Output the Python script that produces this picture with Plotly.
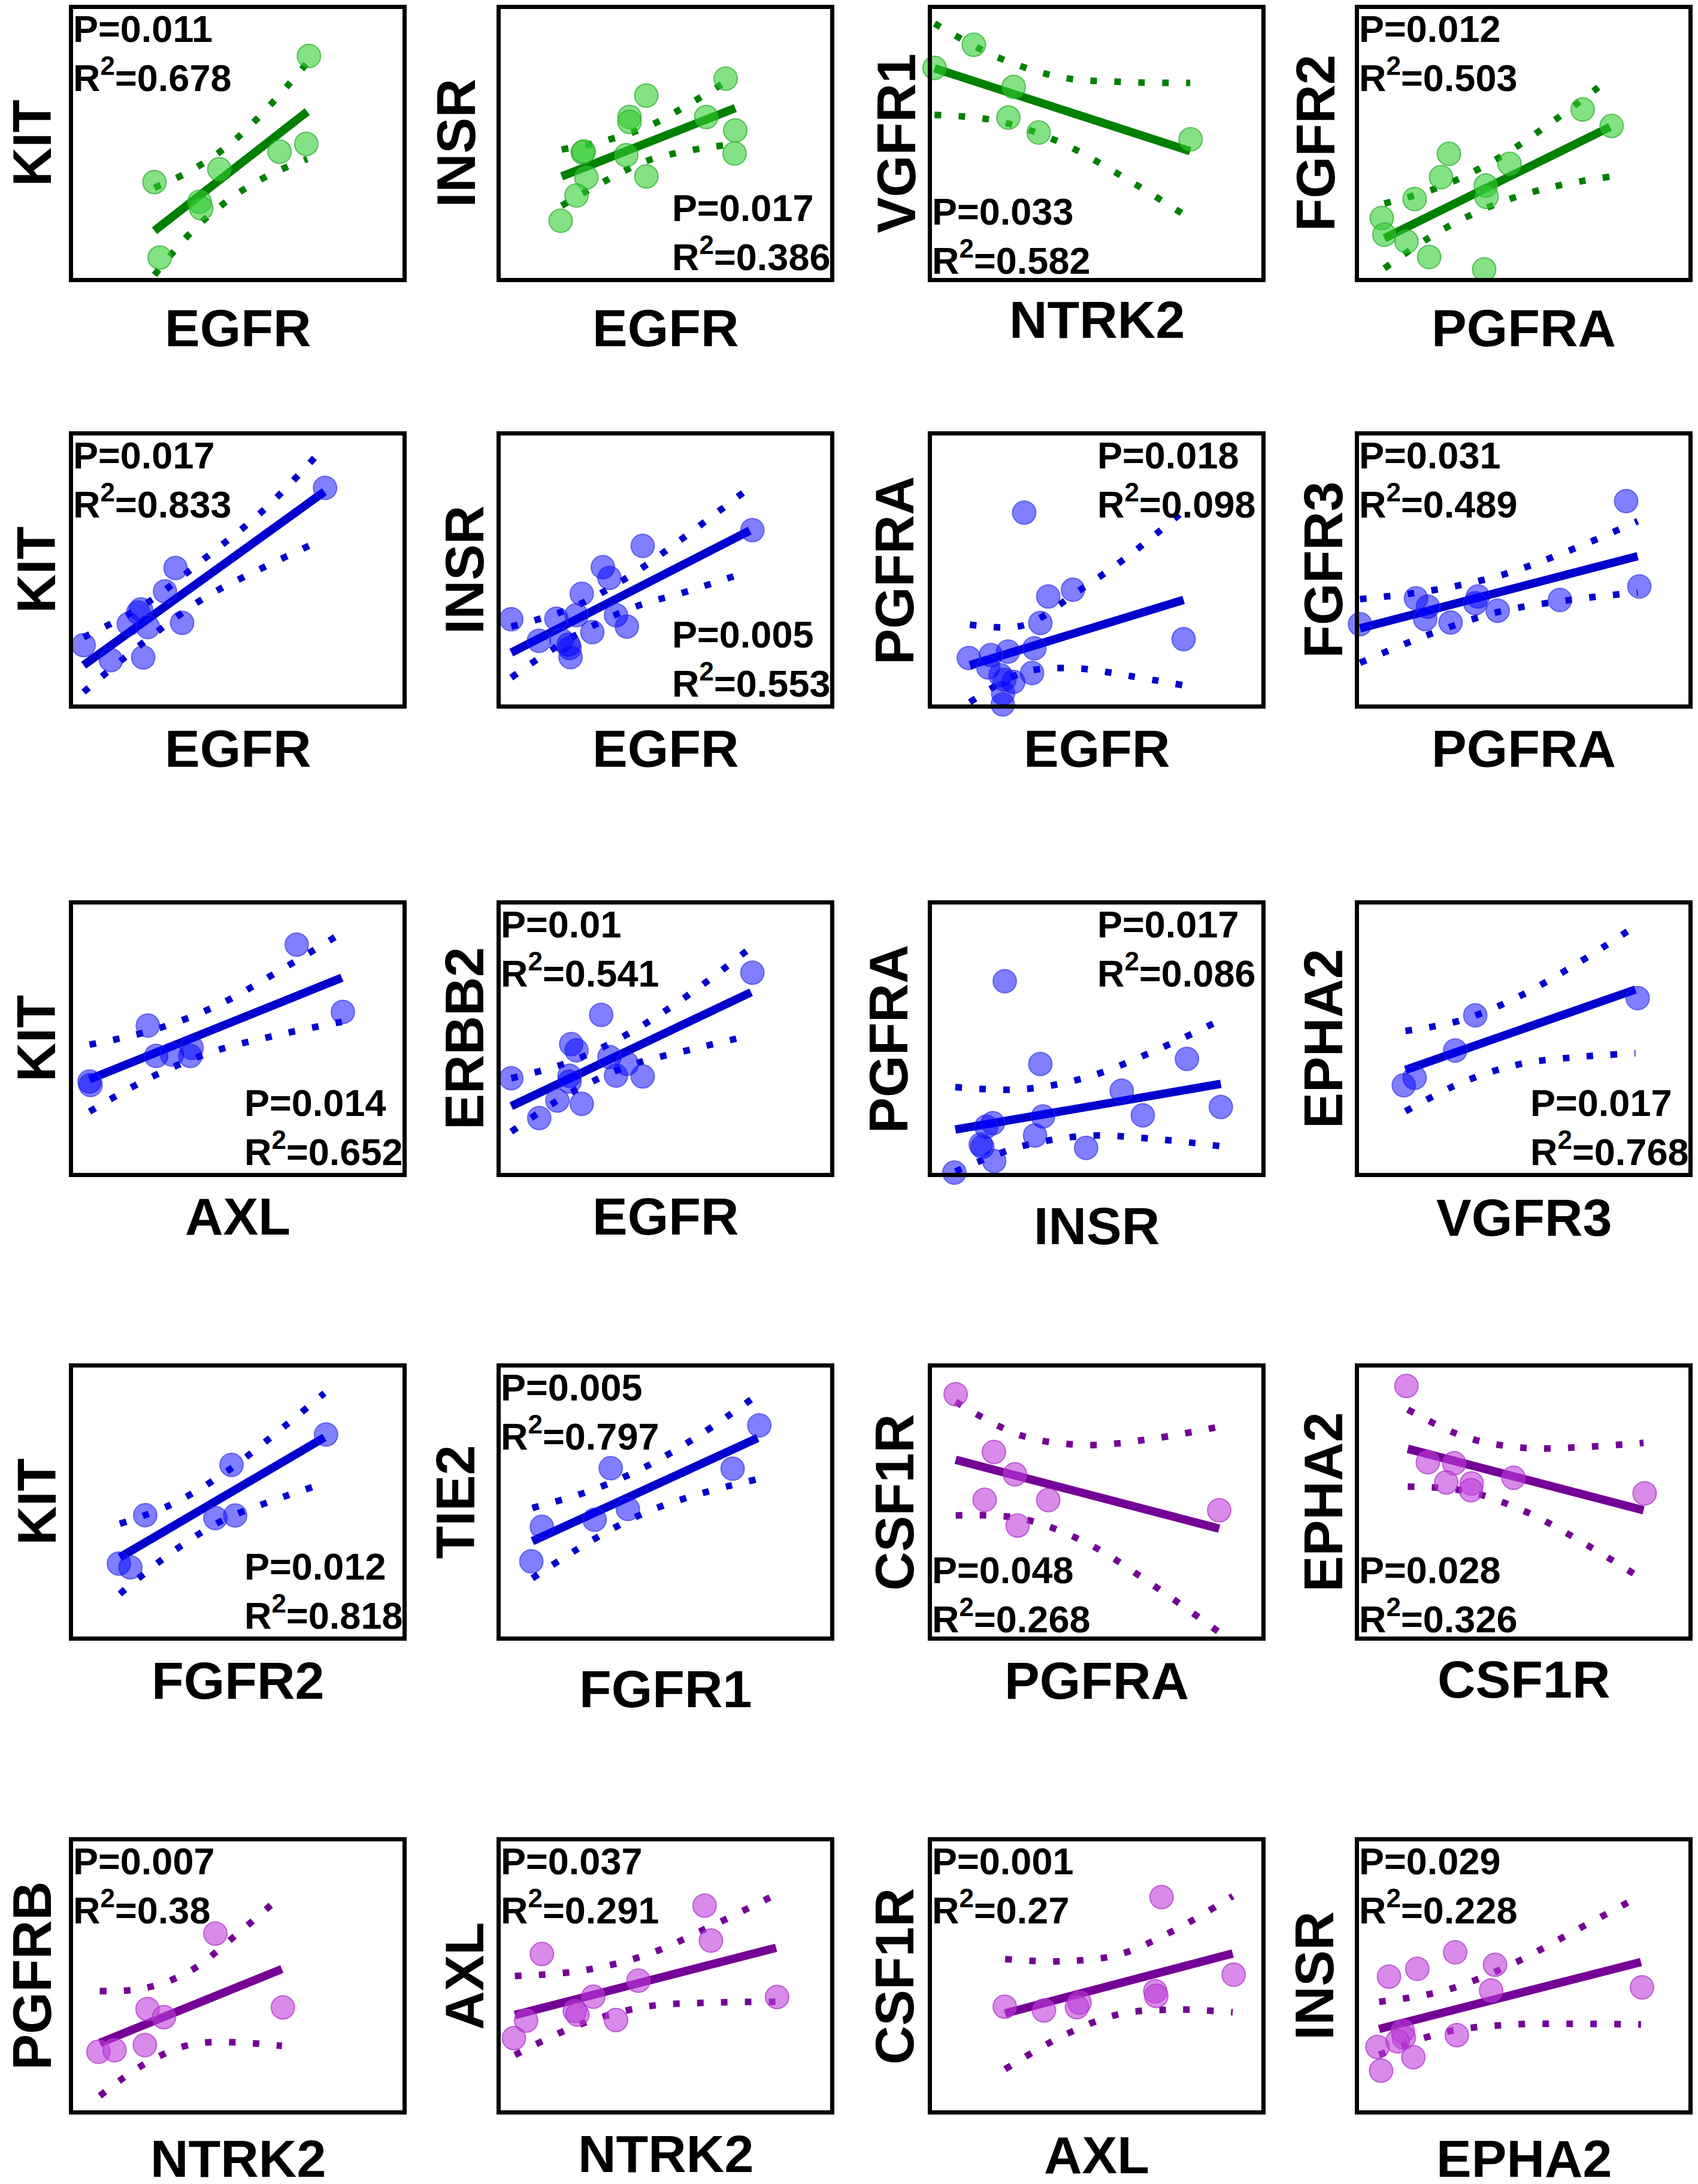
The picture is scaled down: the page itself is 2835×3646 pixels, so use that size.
import plotly.graph_objects as go
from plotly.subplots import make_subplots

y_names = ['KIT', 'INSR', 'VGFR1', 'FGFR2',
           'KIT', 'INSR', 'PGFRA', 'FGFR3',
           'KIT', 'ERBB2', 'PGFRA', 'EPHA2',
           'KIT', 'TIE2', 'CSF1R', 'EPHA2',
           'PGFRB', 'AXL', 'CSF1R', 'INSR']
x_names = ['EGFR', 'EGFR', 'NTRK2', 'PGFRA',
           'EGFR', 'EGFR', 'EGFR', 'PGFRA',
           'AXL', 'EGFR', 'INSR', 'VGFR3',
           'FGFR2', 'FGFR1', 'PGFRA', 'CSF1R',
           'NTRK2', 'NTRK2', 'AXL', 'EPHA2']
p_values = ['0.011', '0.017', '0.033', '0.012',
            '0.017', '0.005', '0.018', '0.031',
            '0.014', '0.01', '0.017', '0.017',
            '0.012', '0.005', '0.048', '0.028',
            '0.007', '0.037', '0.001', '0.029']
r2_values = ['0.678', '0.386', '0.582', '0.503',
             '0.833', '0.553', '0.098', '0.489',
             '0.652', '0.541', '0.086', '0.768',
             '0.818', '0.797', '0.268', '0.326',
             '0.38', '0.291', '0.27', '0.228']

point_x = [
    [.716, .708, .627, .444, .247, .384, .389, .263],
    [.683, .442, .391, .391, .624, .712, .71, .249, .252, .381, .26, .442, .23, .182],
    [.008, .127, .248, .232, .324, .785],
    [.679, .767, .273, .457, .249, .385, .169, .387, .069, .077, .144, .213, .38],
    [.765, .311, .279, .206, .198, .169, .227, .331, .032, .115, .213],
    [.764, .431, .31, .33, .246, .032, .169, .23, .35, .383, .278, .116, .185, .206, .209, .212],
    [.28, .428, .353, .329, .764, .311, .231, .112, .179, .171, .304, .208, .247, .216, .215, .22],
    [.811, .851, .173, .209, .361, .353, .421, .61, .201, .278, .003],
    [.679, .819, .227, .252, .3, .36, .356, .05, .053],
    [.764, .305, .214, .23, .33, .383, .35, .431, .032, .209, .209, .172, .246, .117],
    [.221, .329, .774, .576, .877, .64, .337, .185, .165, .313, .468, .148, .153, .189, .068],
    [.846, .353, .292, .169, .136],
    [.768, .481, .219, .432, .492, .139, .174],
    [.785, .704, .334, .386, .285, .125, .093],
    [.072, .188, .252, .16, .353, .26, .872],
    [.144, .209, .289, .469, .265, .342, .34, .867],
    [.432, .226, .276, .637, .218, .077, .126],
    [.619, .638, .125, .418, .281, .839, .225, .233, .077, .35, .04],
    [.697, .916, .678, .681, .221, .34, .448, .44],
    [.292, .177, .413, .091, .401, .859, .133, .136, .117, .297, .056, .165, .067],
]
point_y = [
    [.825, .498, .469, .404, .356, .283, .258, .075],
    [.741, .678, .598, .58, .598, .548, .462, .466, .47, .456, .373, .377, .306, .212],
    [.781, .867, .71, .596, .54, .515],
    [.626, .565, .461, .424, .374, .343, .293, .301, .222, .16, .135, .077, .031],
    [.806, .508, .421, .354, .342, .3, .288, .304, .221, .165, .175],
    [.649, .59, .511, .471, .412, .317, .319, .332, .332, .29, .269, .237, .239, .223, .21, .176],
    [.714, .427, .402, .303, .243, .209, .197, .173, .184, .138, .117, .109, .084, .042, 0.0, .092],
    [.757, .439, .395, .364, .402, .377, .349, .389, .318, .305, .299],
    [.85, .6, .549, .436, .441, .466, .436, .341, .328],
    [.746, .589, .48, .457, .432, .407, .363, .36, .353, .362, .341, .27, .258, .205],
    [.714, .406, .425, .307, .246, .215, .211, .186, .173, .14, .094, .106, .098, .045, .002],
    [.651, .587, .456, .355, .327],
    [.751, .638, .451, .44, .45, .271, .257],
    [.785, .624, .626, .474, .434, .408, .279],
    [.901, .686, .603, .508, .507, .4125, .469],
    [.932, .648, .644, .59, .573, .569, .544, .532],
    [.658, .377, .347, .383, .243, .218, .224],
    [.762, .632, .582, .483, .423, .422, .37, .357, .334, .336, .269],
    [.794, .505, .443, .426, .386, .372, .401, .384],
    [.588, .527, .542, .498, .446, .458, .295, .271, .257, .28, .236, .198, .148],
]

# regression line ends
fit_x = [[.247, .711], [.185, .712], [.008, .784], [.077, .762],
         [.032, .763], [.032, .756], [.115, .764], [.003, .846],
         [.05, .816], [.032, .76], [.071, .877], [.141, .839],
         [.142, .763], [.096, .78], [.072, .872], [.148, .864],
         [.081, .634], [.043, .836], [.222, .913], [.061, .856]]
fit_y = [[.175, .618], [.377, .631], [.779, .471], [.147, .561],
         [.146, .792], [.193, .647], [.146, .389], [.283, .552],
         [.349, .727], [.249, .673], [.162, .332], [.384, .683],
         [.294, .74], [.354, .738], [.657, .401], [.698, .469],
         [.251, .526], [.355, .605], [.361, .584], [.303, .552]]

# confidence band, read at five places along each fit
band_x = [
    [.247, .363, .479, .595, .711], [.185, .317, .449, .58, .712],
    [.008, .2, .396, .59, .784], [.077, .248, .42, .591, .762],
    [.032, .215, .398, .58, .763], [.032, .213, .394, .575, .756],
    [.115, .28, .44, .6, .764], [.003, .214, .425, .635, .846],
    [.05, .242, .433, .625, .816], [.032, .214, .396, .578, .76],
    [.071, .273, .474, .676, .877], [.141, .316, .49, .665, .839],
    [.142, .297, .453, .608, .763], [.096, .267, .438, .609, .78],
    [.072, .272, .472, .672, .872], [.148, .327, .506, .685, .864],
    [.081, .219, .357, .496, .634], [.043, .241, .44, .638, .836],
    [.222, .395, .568, .741, .913], [.061, .26, .459, .658, .856],
]
band_hi = [
    [.335, .402, .50, .638, .80], [.477, .51, .564, .652, .751],
    [.946, .82, .745, .728, .725], [.276, .339, .443, .584, .742],
    [.25, .37, .542, .725, .958], [.29, .358, .48, .639, .807],
    [.297, .295, .418, .556, .72], [.392, .423, .479, .571, .682],
    [.478, .532, .621, .752, .894], [.353, .416, .525, .67, .84],
    [.32, .312, .358, .455, .57], [.529, .571, .66, .782, .919],
    [.419, .49, .602, .748, .905], [.478, .54, .63, .753, .899],
    [.873, .747, .712, .736, .78], [.844, .74, .701, .705, .72],
    [.444, .455, .52, .654, .8], [.5, .519, .578, .685, .804],
    [.563, .555, .58, .674, .797], [.404, .446, .541, .67, .8],
]
band_lo = [
    [.01, .175, .296, .382, .442], [.268, .36, .437, .475, .498],
    [.606, .583, .50, .368, .22], [.035, .175, .276, .339, .376],
    [.046, .232, .396, .511, .617], [.1, .248, .357, .424, .497],
    [.008, .12, .134, .106, .071], [.155, .261, .345, .388, .417],
    [.229, .36, .455, .515, .563], [.154, .3, .402, .46, .513],
    [.006, .1, .139, .127, .1], [.23, .339, .406, .432, .446],
    [.158, .31, .431, .506, .57], [.216, .35, .46, .532, .585],
    [.45, .438, .346, .19, .015], [.557, .54, .464, .345, .21],
    [.054, .174, .245, .253, .24], [.206, .32, .386, .401, .404],
    [.153, .276, .358, .375, .365], [.207, .291, .319, .322, .32],
]

# styling
text_corner = ['tl', 'br', 'bl', 'tl',
               'tl', 'br', 'tr', 'tl',
               'br', 'tl', 'tr', 'br',
               'br', 'tl', 'bl', 'bl',
               'tl', 'tl', 'tl', 'tl']
colour_set = ['g'] * 4 + ['b'] * 8 + ['b', 'b', 'p', 'p'] + ['p'] * 4
palette = {
    'g': ('rgba(50,205,50,0.6)', 'rgba(40,170,40,0.7)', 'rgb(0,128,0)'),
    'b': ('rgba(0,0,255,0.5)', 'rgba(40,40,230,0.6)', 'rgb(0,0,204)'),
    'p': ('rgba(190,62,218,0.6)', 'rgba(170,50,200,0.7)', 'rgb(117,0,150)'),
}
# label distances (px) from the plot area
xlab_off = [84, 84, 70, 84, 74, 74, 74, 74, 72, 72, 88, 74, 74, 88, 74, 72, 80, 72, 74, 80]
ylab_off = [68, 74, 59, 72, 61, 60, 62, 59, 61, 60, 72, 59, 60, 75, 62, 59, 68, 60, 62, 74]

W, H = 2835, 3646
col_left = [114, 828, 1548, 2261]
row_top = [4, 717, 1500, 2274, 3066]
box_w, box_h = 550, 449

font_fam = 'Liberation Sans, Arial, sans-serif'

fig = make_subplots(rows=5, cols=4)

for i in range(20):
    r = i // 4 + 1
    c = i % 4 + 1
    fill, edge, dark = palette[colour_set[i]]

    fig.add_trace(go.Scatter(x=band_x[i], y=band_hi[i], mode='lines', line_shape='spline',
                             line=dict(color=dark, width=11, dash='11px,29px')), row=r, col=c)
    fig.add_trace(go.Scatter(x=band_x[i], y=band_lo[i], mode='lines', line_shape='spline',
                             line=dict(color=dark, width=11, dash='11px,29px')), row=r, col=c)
    fig.add_trace(go.Scatter(x=fit_x[i], y=fit_y[i], mode='lines',
                             line=dict(color=dark, width=14)), row=r, col=c)
    fig.add_trace(go.Scatter(x=point_x[i], y=point_y[i], mode='markers', cliponaxis=False,
                             marker=dict(size=39, color=fill, line=dict(width=2, color=edge))),
                  row=r, col=c)

    ax = '' if i == 0 else str(i + 1)
    left = col_left[c - 1]
    top = row_top[r - 1]
    fig.layout['xaxis' + ax].domain = [left / W, (left + box_w) / W]
    fig.layout['yaxis' + ax].domain = [1 - (top + box_h) / H, 1 - top / H]

    xd = 'x' + ax + ' domain'
    yd = 'y' + ax + ' domain'
    fig.add_annotation(xref=xd, yref=yd, x=0.5, y=-xlab_off[i] / box_h, text=x_names[i],
                       showarrow=False, xanchor='center', yanchor='middle',
                       font=dict(family=font_fam, size=88, color='black', weight='bold'))
    fig.add_annotation(xref=xd, yref=yd, x=-ylab_off[i] / box_w, y=0.5, text=y_names[i],
                       showarrow=False, textangle=-90, xanchor='center', yanchor='middle',
                       font=dict(family=font_fam, size=90, color='black', weight='bold'))

    label = 'P=' + p_values[i] + '<br>R<sup>2</sup>=' + r2_values[i]
    corner = text_corner[i]
    if corner == 'tl':
        pos = dict(x=0, xanchor='left', y=1, yanchor='top', xshift=-2, yshift=4)
    elif corner == 'tr':
        pos = dict(x=1, xanchor='right', y=1, yanchor='top', xshift=-8, yshift=4)
    elif corner == 'br':
        pos = dict(x=1, xanchor='right', y=0, yanchor='bottom', xshift=2, yshift=-2)
    else:
        pos = dict(x=0, xanchor='left', y=0, yanchor='bottom', xshift=-2, yshift=-8)
    fig.add_annotation(xref=xd, yref=yd, text=label, showarrow=False, align='left',
                       font=dict(family=font_fam, size=63, color='black', weight='bold'), **pos)

fig.update_xaxes(range=[0, 1], showticklabels=False, ticks='', showgrid=False, zeroline=False,
                 showline=True, mirror=True, linecolor='black', linewidth=7)
fig.update_yaxes(range=[0, 1], showticklabels=False, ticks='', showgrid=False, zeroline=False,
                 showline=True, mirror=True, linecolor='black', linewidth=7)

fig.update_layout(width=W, height=H, margin=dict(l=0, r=0, t=0, b=0), showlegend=False,
                  plot_bgcolor='white', paper_bgcolor='white')

fig.write_html('out.html')
